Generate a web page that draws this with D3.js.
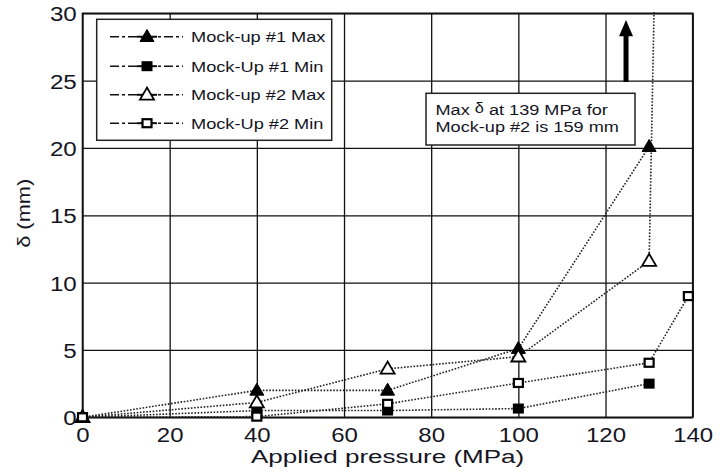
<!DOCTYPE html>
<html><head><meta charset="utf-8">
<script src="https://cdn.jsdelivr.net/npm/d3@7"></script>
<style>
body{margin:0;background:#fff;}
svg{display:block;}
text{font-family:"Liberation Sans",Arial,sans-serif;fill:#15151f;}
</style></head>
<body><svg id="c" width="720" height="474"></svg>
<script>
// ---- data ----
const xTicks = [0,20,40,60,80,100,120,140];
const yTicks = [0,5,10,15,20,25,30];
const seriesNames = ["Mock-up #1 Max","Mock-Up #1 Min","Mock-up #2 Max","Mock-Up #2 Min"];
const m1MaxP = [0,40,70,100,130];
const m1MaxD = [0,2.0,2.0,5.1,20.1];
const m1MinP = [0,40,70,100,130];
const m1MinD = [0,0.5,0.5,0.65,2.5];
const m2MaxP = [0,40,70,100,130,139];
const m2MaxD = [0,1.1,3.6,4.5,11.6,159];
const m2MinP = [0,40,70,100,130,139];
const m2MinD = [0,0.05,1.0,2.55,4.05,9.0];
const markers = ["triFilled","sqFilled","triOpen","sqOpen"];
const annotationLines = ["Max ", "Mock-up #2 is 159 mm"];

const series = [
  {name:seriesNames[0], p:m1MaxP, d:m1MaxD, m:markers[0]},
  {name:seriesNames[1], p:m1MinP, d:m1MinD, m:markers[1]},
  {name:seriesNames[2], p:m2MaxP, d:m2MaxD, m:markers[2]},
  {name:seriesNames[3], p:m2MinP, d:m2MinD, m:markers[3]}
];

const svg = d3.select("#c");
const L=82.5, R=692.7, T=13.3, B=417.3;
const x = d3.scaleLinear().domain([0,140]).range([L,R]);
const y = d3.scaleLinear().domain([0,30]).range([B,T]);

// grid + tick labels via axes
const gx = svg.append("g").attr("transform",`translate(0,${B})`)
  .call(d3.axisBottom(x).tickValues(xTicks).tickSize(-(B-T)).tickPadding(0));
gx.select(".domain").remove();
gx.selectAll("line").attr("stroke","#111").attr("stroke-width",1.3);
gx.selectAll("text").attr("y",24.3).attr("dy",null).attr("font-size",20.5)
  .attr("transform","scale(1.17,1)").style("fill","#15151f");

const gy = svg.append("g").attr("transform",`translate(${L},0)`)
  .call(d3.axisLeft(y).tickValues(yTicks).tickSize(-(R-L)).tickPadding(0));
gy.select(".domain").remove();
gy.selectAll("line").attr("stroke","#111").attr("stroke-width",1.3);
gy.selectAll("text").attr("x",-5).attr("dy","0.36em").attr("font-size",21)
  .attr("transform","scale(1.15,1)").style("fill","#15151f");

// border
svg.append("rect").attr("x",L).attr("y",T).attr("width",R-L).attr("height",B-T)
  .attr("fill","none").attr("stroke","#111").attr("stroke-width",1.6);

// clip
svg.append("clipPath").attr("id","clip").append("rect")
  .attr("x",L).attr("y",T-1).attr("width",R-L+1).attr("height",B-T+2);

// annotation arrow
const ax = x(124.7);
svg.append("line").attr("x1",ax).attr("x2",ax).attr("y1",y(24.9)).attr("y2",y(28.6))
  .attr("stroke","#000").attr("stroke-width",5);
svg.append("path").attr("d",`M${ax},${y(29.5)} L${ax-7},${y(28.3)} L${ax+7},${y(28.3)} Z`).attr("fill","#000");

// annotation box
svg.append("rect").attr("x",426).attr("y",93.3).attr("width",209).attr("height",51.7)
  .attr("fill","#fff").attr("stroke","#222").attr("stroke-width",1.5);
const at = svg.append("text").attr("font-size",15.5).attr("transform","translate(435.5,115) scale(1.17,1)");
at.append("tspan").text("Max ");
at.append("tspan").text("δ").attr("font-size",14).attr("dy",-2);
at.append("tspan").text(" at 139 MPa for").attr("dy",2);
svg.append("text").attr("font-size",15.5).attr("transform","translate(435.5,131.5) scale(1.17,1)")
  .text(annotationLines[1]);

// lines
const line = d3.line().x(d=>x(d[0])).y(d=>y(d[1]));
const gl = svg.append("g").attr("clip-path","url(#clip)");
series.forEach(s=>{
  const pts = s.p.map((p,i)=>[p,s.d[i]]);
  gl.append("path").datum(pts).attr("d",line).attr("fill","none")
    .attr("stroke","#222").attr("stroke-width",1.6).attr("stroke-dasharray","1.6,1.6");
});

function drawMarker(g, type, cx, cy){
  if(type.startsWith("tri")){
    const w=7, h=12;
    g.append("path").attr("d",`M${cx},${cy-h*0.6} L${cx-w},${cy+h*0.4} L${cx+w},${cy+h*0.4} Z`)
      .attr("fill",type==="triFilled"?"#000":"#fff").attr("stroke","#000").attr("stroke-width",type==="triFilled"?1:1.8);
  } else {
    const w=11, h=10;
    if(type==="sqFilled")
      g.append("rect").attr("x",cx-w/2).attr("y",cy-h/2).attr("width",w).attr("height",h).attr("fill","#000");
    else
      g.append("rect").attr("x",cx-w/2+1).attr("y",cy-h/2+1).attr("width",w-2).attr("height",h-2)
        .attr("fill","#fff").attr("stroke","#000").attr("stroke-width",2.2);
  }
}
const gm = svg.append("g");
series.forEach(s=>{
  s.p.forEach((p,i)=>{
    if(s.d[i] <= 30) drawMarker(gm, s.m, x(p), y(s.d[i]));
  });
});

// legend
svg.append("rect").attr("x",96.7).attr("y",19.3).attr("width",235).attr("height",121)
  .attr("fill","#fff").attr("stroke","#222").attr("stroke-width",1.5);
const legY=[36.7,66.2,94.8,123.2];
series.forEach((s,i)=>{
  const g = svg.append("g");
  g.append("line").attr("x1",110).attr("x2",183).attr("y1",legY[i]).attr("y2",legY[i])
    .attr("stroke","#111").attr("stroke-width",1.6).attr("stroke-dasharray","9,3,3,3");
  g.append("line").attr("x1",137).attr("x2",157).attr("y1",legY[i]).attr("y2",legY[i])
    .attr("stroke","#111").attr("stroke-width",2);
  drawMarker(g, s.m, 147, legY[i]);
  g.append("text").attr("font-size",15.3).attr("transform",`translate(191,${legY[i]+5.5}) scale(1.19,1)`).text(s.name);
});

// axis titles
svg.append("text").attr("font-size",19).attr("text-anchor","middle")
  .attr("transform",`translate(${(L+R)/2},463) scale(1.37,1)`).text("Applied pressure (MPa)");
svg.append("text").attr("font-size",18.5).attr("text-anchor","middle")
  .attr("transform",`translate(30,${(T+B)/2 - 2}) rotate(-90) scale(1.18,1)`).text("δ (mm)");
</script></body></html>
